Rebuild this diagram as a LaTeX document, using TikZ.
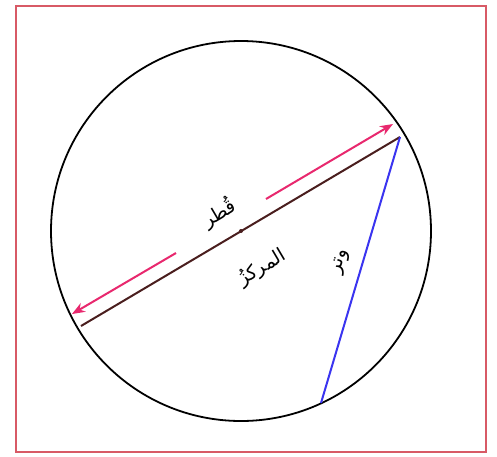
\documentclass[tikz,border=0pt]{standalone}
\usepackage{fontspec}
\newfontfamily\arabicfont[Script=Arabic]{DejaVu Sans}
\TeXXeTstate=1
\usetikzlibrary{arrows.meta}
\definecolor{frame}{HTML}{D85A66}
\definecolor{diam}{HTML}{4A1E1E}
\definecolor{arr}{HTML}{E8286E}
\definecolor{chordc}{HTML}{3A34F0}
\tikzset{
  lbl/.style={font=\arabicfont\fontsize{19}{22}\selectfont, inner sep=0pt},
  pinkarrow/.style={draw=arr, line width=2pt, -{Stealth[length=13pt,width=10pt]}},
}
\begin{document}
\begin{tikzpicture}[x=1pt,y=-1pt]
\useasboundingbox (0,0) rectangle (497,456);
\fill[white] (0,0) rectangle (497,456);
\draw[frame, line width=2.6pt] (16,6) rectangle (486,452);
\coordinate (O) at (241,231);
\draw[black, line width=1.8pt] (O) circle (190);
\coordinate (A) at (400,137);
\coordinate (B) at (81,326);
\coordinate (C) at (321,403);
\draw[diam, line width=2pt] (A) -- (B);
\draw[chordc, line width=2pt] (A) -- (C);
\fill[diam] (O) circle (2);
\coordinate (PA) at (393,124);
\coordinate (PB) at (72,314);
\coordinate (PL) at (176,253);
\coordinate (PR) at (266,199);
\draw[pinkarrow] (PR) -- (PA);
\draw[pinkarrow] (PL) -- (PB);
\node[lbl, rotate=30.6] (qutr) at (219,213) {\beginR قُطر\endR};
\node[lbl, rotate=30.6] (markaz) at (262,268) {\beginR المركزُ\endR};
\node[lbl, rotate=73.5] (watar) at (341,262) {\beginR وتر\endR};
\end{tikzpicture}
\end{document}
